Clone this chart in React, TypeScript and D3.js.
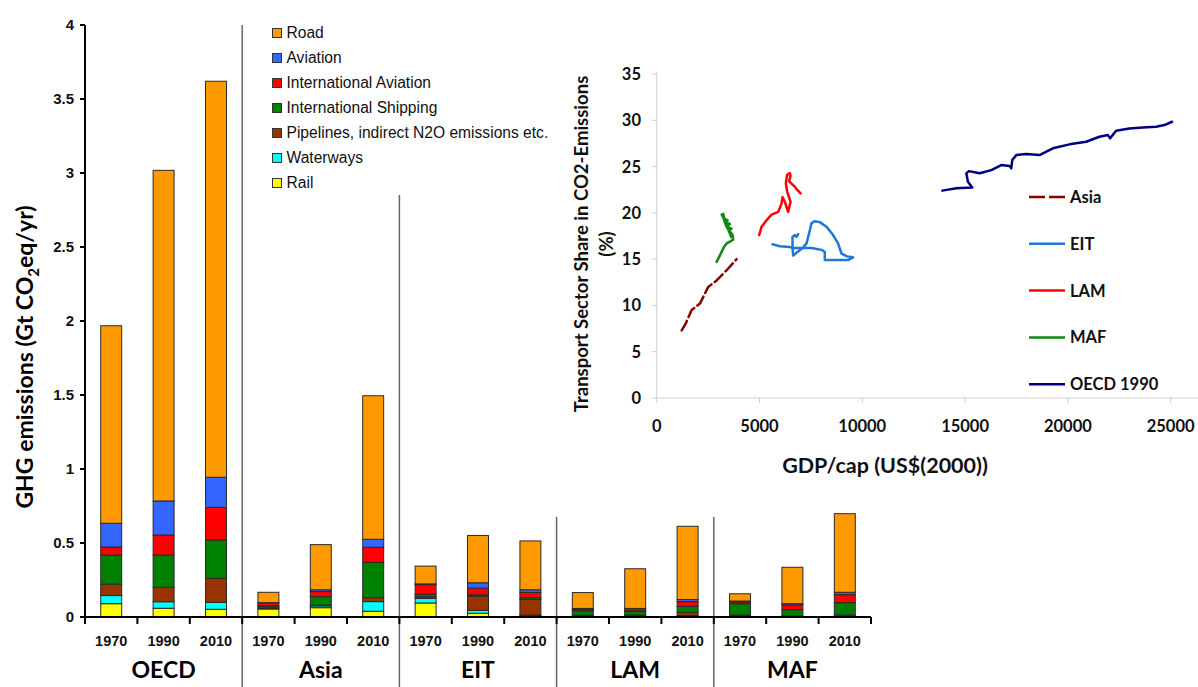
import React from "react";
import * as d3 from "d3";

// ---- Stacked bars: transport GHG emissions by mode (Gt CO2eq/yr) ----
const regions = ["OECD", "Asia", "EIT", "LAM", "MAF"];
const years = ["1970", "1990", "2010"];

// one value per region-year, in order OECD 1970..MAF 2010
const rail = [0.09, 0.059, 0.052, 0.054, 0.063, 0.039, 0.095, 0.025, 0.008, 0.004, 0.004, 0.005, 0.008, 0.002, 0.003];
const waterways = [0.055, 0.044, 0.047, 0.005, 0.012, 0.065, 0.03, 0.02, 0.005, 0.003, 0.003, 0.005, 0.003, 0.002, 0.002];
const pipelines = [0.077, 0.098, 0.162, 0.01, 0.005, 0.027, 0.012, 0.095, 0.105, 0.005, 0.006, 0.022, 0.003, 0.003, 0.009];
const intShipping = [0.197, 0.218, 0.259, 0.008, 0.058, 0.238, 0.017, 0.01, 0.012, 0.03, 0.025, 0.04, 0.076, 0.042, 0.083];
const intAviation = [0.054, 0.135, 0.221, 0.018, 0.034, 0.102, 0.065, 0.045, 0.036, 0.008, 0.01, 0.032, 0.012, 0.032, 0.054];
const aviation = [0.16, 0.23, 0.203, 0.002, 0.012, 0.054, 0.005, 0.036, 0.018, 0.008, 0.01, 0.014, 0.006, 0.009, 0.016];
const road = [1.335, 2.234, 2.676, 0.07, 0.305, 0.97, 0.12, 0.32, 0.33, 0.107, 0.268, 0.495, 0.049, 0.246, 0.531];

const yTicks = [0, 0.5, 1, 1.5, 2, 2.5, 3, 3.5, 4];

// stacking order bottom -> top
const modes = [
  { key: "Rail", values: rail, color: "#FFFF00" },
  { key: "Waterways", values: waterways, color: "#00FFFF" },
  { key: "Pipelines, indirect N2O emissions etc.", values: pipelines, color: "#993300" },
  { key: "International Shipping", values: intShipping, color: "#008000" },
  { key: "International Aviation", values: intAviation, color: "#FF0000" },
  { key: "Aviation", values: aviation, color: "#3366FF" },
  { key: "Road", values: road, color: "#FF9900" },
];

// ---- Inset: transport share of CO2 vs GDP per capita ----
const gdpTicks = [0, 5000, 10000, 15000, 20000, 25000];
const shareTicks = [0, 5, 10, 15, 20, 25, 30, 35];

const asiaPath: [number, number][] = [
  [1215, 7.3], [1423, 8.1], [1700, 9.5], [2104, 10.2], [2507, 12.0], [2915, 12.7], [3401, 13.8], [3887, 15.0],
];
const eitPath: [number, number][] = [
  [5635, 16.6], [5990, 16.4], [6476, 16.3], [6637, 16.2], [7122, 16.2], [7530, 16.2], [8016, 16.0], [8176, 15.8],
  [8176, 14.9], [9310, 14.9], [9552, 15.2], [9260, 15.3], [8988, 15.6], [8823, 16.7], [8580, 17.6], [8259, 18.5],
  [7933, 19.0], [7690, 19.1], [7530, 18.9], [7414, 17.8], [7288, 16.7], [7093, 16.2], [6637, 15.4], [6607, 16.2],
  [6607, 17.4], [6719, 17.6], [6800, 17.4], [6880, 17.7],
];
const lamPath: [number, number][] = [
  [4985, 17.6], [5101, 18.5], [5344, 19.2], [5587, 19.8], [5907, 20.1], [6073, 21.0], [6121, 21.7], [6233, 21.2],
  [6393, 20.1], [6510, 21.2], [6345, 22.3], [6282, 23.2], [6345, 24.1], [6476, 24.3], [6510, 24.0], [6442, 23.4],
  [6636, 23.0], [6719, 22.8], [6831, 22.5], [6996, 22.1],
];
const mafPath: [number, number][] = [
  [2915, 14.7], [3075, 15.4], [3270, 16.3], [3401, 16.7], [3561, 16.9], [3721, 17.1], [3692, 17.6], [3527, 18.1],
  [3640, 18.3], [3401, 18.5], [3560, 18.8], [3430, 18.9], [3318, 19.0], [3450, 19.2], [3270, 19.4], [3158, 19.8],
  [3236, 19.9], [3300, 19.3], [3220, 19.6], [3380, 18.6], [3500, 18.1], [3620, 17.4],
];
const oecdPath: [number, number][] = [
  [13894, 22.4], [14574, 22.65], [15352, 22.75], [15138, 23.36], [15060, 24.27], [15187, 24.51], [15707, 24.27],
  [16275, 24.62], [16761, 25.16], [17164, 25.05], [17247, 24.81], [17295, 25.7], [17490, 26.24], [17975, 26.35],
  [18621, 26.24], [19268, 26.97], [20079, 27.4], [20890, 27.68], [21536, 28.22], [21939, 28.4], [22056, 28.05],
  [22348, 28.87], [22994, 29.12], [23640, 29.23], [24291, 29.3], [24698, 29.48], [25068, 29.84],
];

const insetSeries = [
  { name: "Asia", points: asiaPath, color: "#8B0000", dash: "11,4", legendDash: "16,4" },
  { name: "EIT", points: eitPath, color: "#1E78D7", dash: null, legendDash: null },
  { name: "LAM", points: lamPath, color: "#FF0000", dash: null, legendDash: null },
  { name: "MAF", points: mafPath, color: "#108A10", dash: null, legendDash: null },
  { name: "OECD 1990", points: oecdPath, color: "#000080", dash: null, legendDash: null },
];

const W = 1198;
const H = 687;

export default function App() {
  const cats = regions.flatMap((r) => years.map((y) => `${r}-${y}`));
  const x = d3.scaleBand<string>().domain(cats).range([85, 871]).paddingInner(0.6).paddingOuter(0.3);
  const y = d3.scaleLinear().domain([0, 4]).range([617, 25]);
  const step = x.step();
  const x0 = 85;

  const rows = cats.map((c, i) => {
    const o: Record<string, any> = { cat: c };
    modes.forEach((m) => (o[m.key] = m.values[i]));
    return o;
  });
  const stacked = d3.stack<any>().keys(modes.map((m) => m.key))(rows);

  // inset scales
  const gx = d3.scaleLinear().domain([0, 26330]).range([656.7, 1198]);
  const gy = d3.scaleLinear().domain([0, 35]).range([398, 74]);
  const line = d3
    .line<[number, number]>()
    .x((d) => gx(d[0]))
    .y((d) => gy(d[1]))
    .curve(d3.curveLinear);

  const axisFont = "'Liberation Sans', Arial, sans-serif";
  const calFont = "Lato, 'Open Sans', sans-serif";

  // legend for modes, listed top -> bottom
  const legendModes = [...modes].reverse();

  return (
    <div style={{ position: "absolute", left: 0, top: 0 }}>
      <svg width={W} height={H} style={{ display: "block", background: "#fff" }}>
        {/* region separators */}
        {regions.slice(1).map((r, k) => {
          const sx = x0 + (k + 1) * 3 * step;
          const top = k === 0 ? 25 : k === 1 ? 195 : 517;
          return <line key={r} x1={sx} x2={sx} y1={top} y2={H} stroke="#666" strokeWidth={1.5} />;
        })}

        {/* stacked bars */}
        {stacked.map((layer, li) => (
          <g key={layer.key} fill={modes[li].color}>
            {layer.map((d, i) => (
              <rect
                key={i}
                x={x(cats[i])!}
                width={x.bandwidth()}
                y={y(d[1])}
                height={Math.max(0, y(d[0]) - y(d[1]))}
                stroke="#2a2a2a"
                strokeWidth={1}
              />
            ))}
          </g>
        ))}

        {/* left axis */}
        <line x1={85} x2={85} y1={y(4)} y2={y(0)} stroke="#000" strokeWidth={2} />
        {yTicks.map((t) => (
          <g key={t}>
            <line x1={80} x2={85} y1={y(t)} y2={y(t)} stroke="#000" strokeWidth={2} />
            <text
              x={74}
              y={y(t)}
              dy="0.36em"
              textAnchor="end"
              fontFamily={axisFont}
              fontWeight="bold"
              fontSize={15}
              fill="#111"
            >
              {t}
            </text>
          </g>
        ))}

        {/* bottom axis */}
        <line x1={85} x2={871} y1={y(0)} y2={y(0)} stroke="#000" strokeWidth={2} />
        {d3.range(cats.length + 1).map((i) => (
          <line key={i} x1={x0 + i * step} x2={x0 + i * step} y1={y(0)} y2={y(0) + 7} stroke="#000" strokeWidth={2} />
        ))}
        {cats.map((c, i) => (
          <text
            key={c}
            x={x(c)! + x.bandwidth() / 2}
            y={646}
            textAnchor="middle"
            fontFamily={axisFont}
            fontWeight="bold"
            fontSize={14.5}
            fill="#111"
          >
            {years[i % 3]}
          </text>
        ))}
        {regions.map((r, k) => (
          <text
            key={r}
            x={x0 + (k * 3 + 1.5) * step}
            y={678}
            textAnchor="middle"
            fontFamily={calFont}
            fontWeight="bold"
            fontSize={23}
            fill="#000"
          >
            {r}
          </text>
        ))}

        {/* y title */}
        <text
          transform="translate(33,357) rotate(-90)"
          textAnchor="middle"
          fontFamily={calFont}
          fontWeight="bold"
          fontSize={23}
          fill="#000"
        >
          GHG emissions (Gt CO
          <tspan fontSize={15} dy={6}>
            2
          </tspan>
          <tspan dy={-6}>eq/yr)</tspan>
        </text>

        {/* mode legend */}
        {legendModes.map((m, i) => {
          const cy = 33 + i * 25;
          return (
            <g key={m.key}>
              <rect x={272.5} y={cy - 4.5} width={9} height={9} fill={m.color} stroke="#333" strokeWidth={1} />
              <text
                x={286.5}
                y={cy}
                dy="0.35em"
                fontFamily={axisFont}
                fontSize={15.6}
                fill="#111"
              >
                {m.key}
              </text>
            </g>
          );
        })}

        {/* ---- inset chart ---- */}
        <line x1={gx(0)} x2={gx(0)} y1={gy(35) - 2} y2={gy(0)} stroke="#d0d0d0" strokeWidth={1} />
        <line x1={gx(0)} x2={W} y1={gy(0)} y2={gy(0)} stroke="#d0d0d0" strokeWidth={1} />
        {shareTicks.map((t) => (
          <g key={t}>
            <line x1={gx(0) - 5} x2={gx(0)} y1={gy(t)} y2={gy(t)} stroke="#d0d0d0" strokeWidth={1} />
            <text
              x={641}
              y={gy(t)}
              dy="0.36em"
              textAnchor="end"
              fontFamily={calFont}
              fontWeight="bold"
              fontSize={16.5}
              fill="#111"
            >
              {t}
            </text>
          </g>
        ))}
        {gdpTicks.map((t) => (
          <g key={t}>
            <line x1={gx(t)} x2={gx(t)} y1={gy(0)} y2={gy(0) + 5} stroke="#d0d0d0" strokeWidth={1} />
            <text
              x={gx(t)}
              y={432}
              textAnchor="middle"
              fontFamily={calFont}
              fontWeight="bold"
              fontSize={16.5}
              fill="#111"
            >
              {t}
            </text>
          </g>
        ))}
        <text
          x={885}
          y={473}
          textAnchor="middle"
          fontFamily={calFont}
          fontWeight="bold"
          fontSize={21.5}
          fill="#111"
        >
          GDP/cap (US$(2000))
        </text>
        <text
          transform="translate(588,244) rotate(-90)"
          textAnchor="middle"
          fontFamily={calFont}
          fontWeight="bold"
          fontSize={18.5}
          fill="#111"
        >
          Transport Sector Share in CO2-Emissions
        </text>
        <text
          transform="translate(613,244) rotate(-90)"
          textAnchor="middle"
          fontFamily={calFont}
          fontWeight="bold"
          fontSize={18.5}
          fill="#111"
        >
          (%)
        </text>

        {insetSeries.map((s) => (
          <path
            key={s.name}
            d={line(s.points) || ""}
            fill="none"
            stroke={s.color}
            strokeWidth={2.5}
            strokeDasharray={s.dash || undefined}
            strokeLinejoin="round"
            strokeLinecap="round"
          />
        ))}

        {/* inset legend */}
        {insetSeries.map((s, i) => {
          const ly = 197 + i * 46.8;
          return (
            <g key={s.name}>
              <line
                x1={1029}
                x2={1065}
                y1={ly}
                y2={ly}
                stroke={s.color}
                strokeWidth={2.5}
                strokeDasharray={s.legendDash || undefined}
              />
              <text
                x={1070}
                y={ly}
                dy="0.36em"
                fontFamily={calFont}
                fontWeight="bold"
                fontSize={16.5}
                fill="#111"
              >
                {s.name}
              </text>
            </g>
          );
        })}
      </svg>
    </div>
  );
}
